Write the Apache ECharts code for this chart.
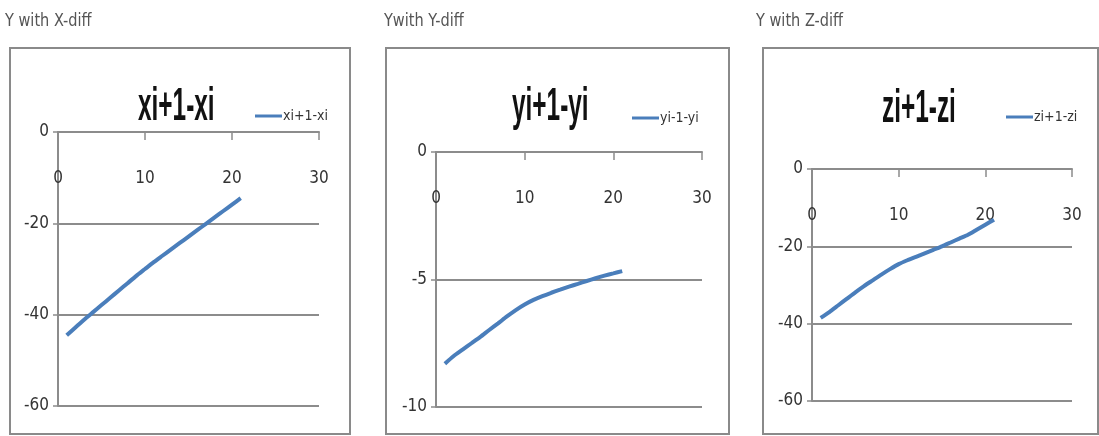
<!DOCTYPE html>
<html>
<head>
<meta charset="utf-8">
<script src="https://cdn.jsdelivr.net/npm/echarts@6/dist/echarts.min.js"></script>
<style>
  html, body { margin: 0; padding: 0; background: #fff; }
  #chart { width: 1099px; height: 436px; }
</style>
</head>
<body>
<div id="chart"></div>
<script>
// Step index shared by the three difference series
const steps = [1, 2, 3, 4, 5, 6, 7, 8, 9, 10, 11, 12, 13, 14, 15, 16, 17, 18, 19, 20, 21];

// Successive differences along each coordinate
const xDiff = [-44.5, -42.8, -41.1, -39.5, -37.9, -36.3, -34.7, -33.1, -31.5, -30.0, -28.5,
               -27.1, -25.7, -24.3, -22.9, -21.5, -20.1, -18.7, -17.3, -15.9, -14.5];
const yDiff = [-8.3, -8.0, -7.75, -7.5, -7.25, -6.98, -6.72, -6.45, -6.2, -5.98, -5.8,
               -5.65, -5.52, -5.4, -5.28, -5.17, -5.06, -4.95, -4.85, -4.76, -4.67];
const zDiff = [-38.5, -37.0, -35.3, -33.6, -31.9, -30.3, -28.8, -27.3, -25.9, -24.6, -23.6,
               -22.7, -21.8, -20.9, -20.0, -19.0, -18.0, -17.0, -15.7, -14.4, -13.1];

// Panel texts
const captions = ['Y with X-diff', 'Ywith Y-diff', 'Y with Z-diff'];
const titles = ['xi+1-xi', 'yi+1-yi', 'zi+1-zi'];
const seriesNames = ['xi+1-xi', 'yi-1-yi', 'zi+1-zi'];

// Axis ranges
const xRange = { min: 0, max: 30, interval: 10 };
const yRanges = [
  { min: -60, max: 0, interval: 20 },
  { min: -10, max: 0, interval: 5 },
  { min: -60, max: 0, interval: 20 }
];

const values = [xDiff, yDiff, zDiff];

// Layout of each panel: frame box, plot area, caption, title and legend placement
const panels = [
  { box: [10, 48, 340, 386], grid: { left: 58, top: 132, width: 261, height: 274 },
    cap: [5, 13], title: [138, 84], legend: [255, 109] },
  { box: [386, 48, 343, 386], grid: { left: 436, top: 152, width: 266, height: 255 },
    cap: [384, 13], title: [512, 84], legend: [632, 111] },
  { box: [763, 48, 335, 386], grid: { left: 812, top: 169, width: 260, height: 232 },
    cap: [756, 13], title: [882, 86], legend: [1006, 110] }
];

const FONT = '"DejaVu Sans Condensed", "Liberation Sans", sans-serif';
const TITLE_FONT = '"Liberation Sans", Arial, sans-serif';
const LINE_BLUE = '#4a7ebb';
const GRID_GRAY = '#8c8c8c';
const TEXT = '#333';

const chart = echarts.init(document.getElementById('chart'), null, { renderer: 'canvas' });

const option = {
  backgroundColor: '#fff',
  animation: false,
  textStyle: { fontFamily: FONT },
  legend: panels.map((p, i) => ({
    data: [seriesNames[i]],
    left: p.legend[0],
    top: p.legend[1],
    padding: 0,
    icon: 'rect',
    itemWidth: 27,
    itemHeight: 3,
    itemGap: 0,
    textStyle: { fontFamily: FONT, fontSize: 14, color: TEXT, padding: [0, 0, 0, -4] }
  })),
  grid: panels.map(p => Object.assign({ containLabel: false }, p.grid)),
  xAxis: panels.map((p, i) => ({
    type: 'value',
    gridIndex: i,
    position: 'top',
    min: xRange.min, max: xRange.max, interval: xRange.interval,
    axisLine: { show: true, onZero: false, lineStyle: { color: GRID_GRAY, width: 2 } },
    axisTick: { show: true, inside: true, length: 8, lineStyle: { color: GRID_GRAY, width: 1.5 } },
    axisLabel: { inside: true, margin: 38, fontFamily: FONT, fontSize: 17, color: TEXT },
    splitLine: { show: false }
  })),
  yAxis: panels.map((p, i) => ({
    type: 'value',
    gridIndex: i,
    min: yRanges[i].min, max: yRanges[i].max, interval: yRanges[i].interval,
    axisLine: { show: true, onZero: false, lineStyle: { color: GRID_GRAY, width: 2 } },
    axisTick: { show: true, length: 5, lineStyle: { color: GRID_GRAY, width: 1.5 } },
    axisLabel: { margin: 9, fontFamily: FONT, fontSize: 17, color: TEXT },
    splitLine: { show: true, lineStyle: { color: GRID_GRAY, width: 2 } }
  })),
  series: values.map((vals, i) => ({
    name: seriesNames[i],
    type: 'line',
    xAxisIndex: i,
    yAxisIndex: i,
    showSymbol: false,
    symbol: 'none',
    smooth: 0.2,
    itemStyle: { color: LINE_BLUE },
    lineStyle: { color: LINE_BLUE, width: 4 },
    data: steps.map((s, k) => [s, vals[k]])
  })),
  graphic: panels.flatMap((p, i) => [
    {
      type: 'rect',
      silent: true,
      z: -1,
      shape: { x: p.box[0], y: p.box[1], width: p.box[2], height: p.box[3] },
      style: { fill: 'none', stroke: '#8a8a8a', lineWidth: 2 }
    },
    {
      type: 'text',
      silent: true,
      x: p.cap[0],
      y: p.cap[1],
      scaleX: 0.95,
      style: { text: captions[i], font: '17px ' + FONT, fill: '#555', align: 'left', verticalAlign: 'top' }
    },
    {
      // narrow, tall chart heading
      type: 'text',
      silent: true,
      x: p.title[0],
      y: p.title[1],
      scaleX: 0.53,
      style: { text: titles[i], font: 'bold 46px ' + TITLE_FONT, fill: '#111', align: 'left', verticalAlign: 'top' }
    }
  ])
};

chart.setOption(option);
</script>
</body>
</html>
